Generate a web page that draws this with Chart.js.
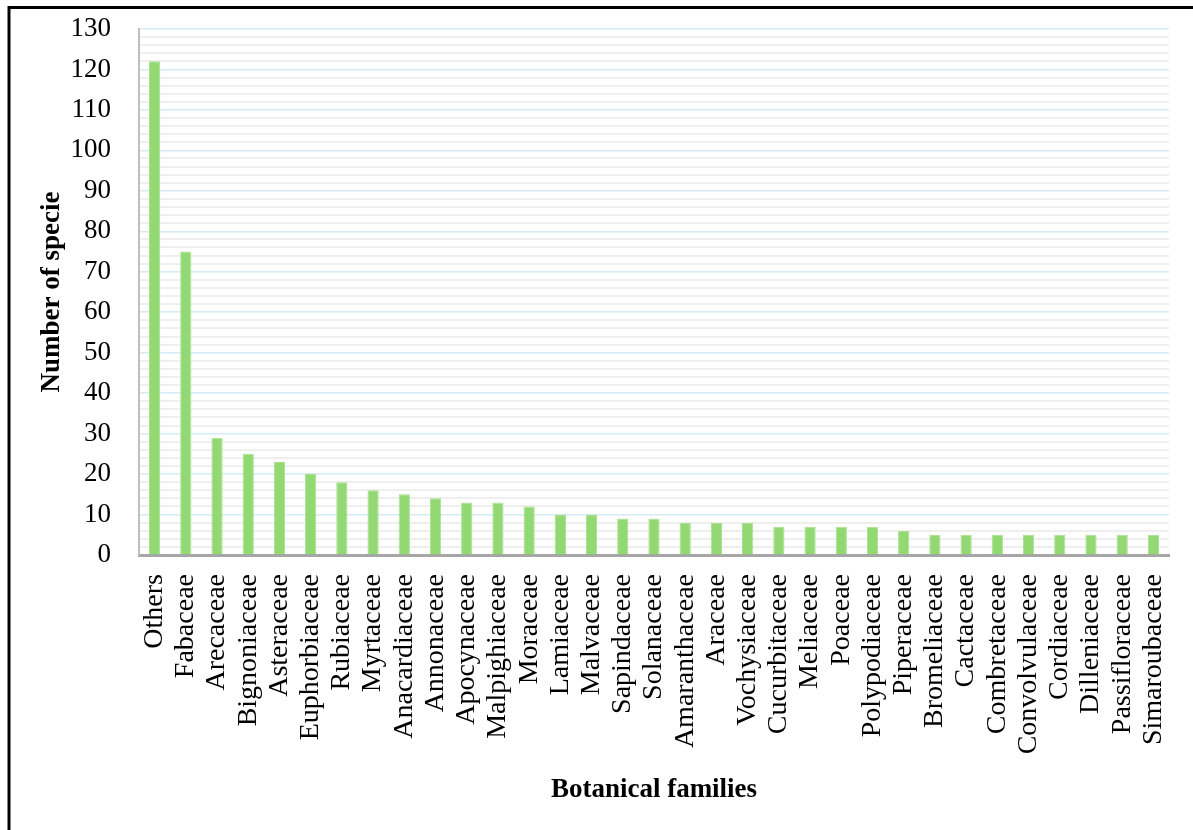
<!DOCTYPE html>
<html>
<head>
<meta charset="utf-8">
<script src="https://cdn.jsdelivr.net/npm/chart.js@4"></script>
<style>
  html, body { margin: 0; padding: 0; background: #fff; }
  #wrap { position: relative; width: 1193px; height: 830px; }
</style>
</head>
<body>
<div id="wrap"><canvas id="grafico-familias" width="1193" height="830"></canvas></div>
<script>
// familias botanicas e numero de especies
const familias = [
    "Others", "Fabaceae", "Arecaceae", "Bignoniaceae", "Asteraceae", "Euphorbiaceae",
    "Rubiaceae", "Myrtaceae", "Anacardiaceae", "Annonaceae", "Apocynaceae", "Malpighiaceae",
    "Moraceae", "Lamiaceae", "Malvaceae", "Sapindaceae", "Solanaceae", "Amaranthaceae",
    "Araceae", "Vochysiaceae", "Cucurbitaceae", "Meliaceae", "Poaceae", "Polypodiaceae",
    "Piperaceae", "Bromeliaceae", "Cactaceae", "Combretaceae", "Convolvulaceae", "Cordiaceae",
    "Dilleniaceae", "Passifloraceae", "Simaroubaceae"
];
const especies = [
    122, 75, 29, 25, 23, 20,
    18, 16, 15, 14, 13, 13,
    12, 10, 10, 9, 9, 8,
    8, 8, 7, 7, 7, 7,
    6, 5, 5, 5, 5, 5,
    5, 5, 5
];
const yMin = 0;
const yMax = 130;
const yStep = 2;      // linhas menores
const yLabelStep = 10; // rotulos e linhas principais

const serif = "'Liberation Serif', 'Times New Roman', serif";

// moldura preta (so topo e esquerda aparecem)
const moldura = {
    id: "moldura",
    afterDraw(chart) {
        const ctx = chart.ctx;
        ctx.save();
        ctx.strokeStyle = "#000";
        ctx.lineWidth = 3;
        ctx.beginPath();
        ctx.moveTo(9, 840);
        ctx.lineTo(9, 7.5);
        ctx.lineTo(1200, 7.5);
        ctx.stroke();
        ctx.restore();
    }
};

new Chart(document.getElementById("grafico-familias"), {
    type: "bar",
    data: {
        labels: familias,
        datasets: [{
            label: "Number of specie",
            data: especies,
            backgroundColor: "#92d873",
            borderColor: "#a9e08f",
            borderWidth: { left: 1, right: 1, top: 1, bottom: 0 },
            barPercentage: 0.36,
            categoryPercentage: 1.0
        }]
    },
    options: {
        responsive: false,
        animation: false,
        devicePixelRatio: 1,
        layout: { padding: { left: 0, right: 24, top: 29, bottom: 0 } },
        plugins: {
            legend: { display: false },
            tooltip: { enabled: false }
        },
        scales: {
            x: {
                offset: true,
                grid: { display: false, drawTicks: false },
                border: { display: true, color: "#a6a6a6", width: 3 },
                ticks: {
                    autoSkip: false,
                    maxRotation: 90,
                    minRotation: 90,
                    padding: 19,
                    color: "#000",
                    font: { family: serif, size: 28 }
                },
                title: {
                    display: true,
                    text: "Botanical families",
                    color: "#000",
                    font: { family: serif, size: 27, weight: "bold" },
                    padding: { top: 0, bottom: 24 }
                },
                afterFit(scale) {
                    scale.height = 830 - 555;
                    scale.paddingLeft = 0;
                    scale.paddingRight = 0;
                }
            },
            y: {
                min: yMin,
                max: yMax,
                grid: {
                    drawTicks: false,
                    color: (c) => (c.tick.value % yLabelStep === 0 ? "#d5ecf7" : "#efefef"),
                    lineWidth: (c) => (c.tick.value % yLabelStep === 0 ? 1.5 : 2)
                },
                border: { display: true, color: "#bfbfbf", width: 2 },
                ticks: {
                    stepSize: yStep,
                    autoSkip: false,
                    maxTicksLimit: 100,
                    padding: 28,
                    color: "#000",
                    font: { family: serif, size: 27 },
                    callback: (v) => (v % yLabelStep === 0 ? v : "")
                },
                title: {
                    display: true,
                    text: "Number of specie",
                    color: "#000",
                    font: { family: serif, size: 27, weight: "bold" },
                    padding: { top: 36, bottom: 0 }
                },
                afterFit(scale) {
                    scale.width = 139;
                    scale.paddingTop = 0;
                    scale.paddingBottom = 0;
                }
            }
        }
    },
    plugins: [moldura]
});
</script>
</body>
</html>
